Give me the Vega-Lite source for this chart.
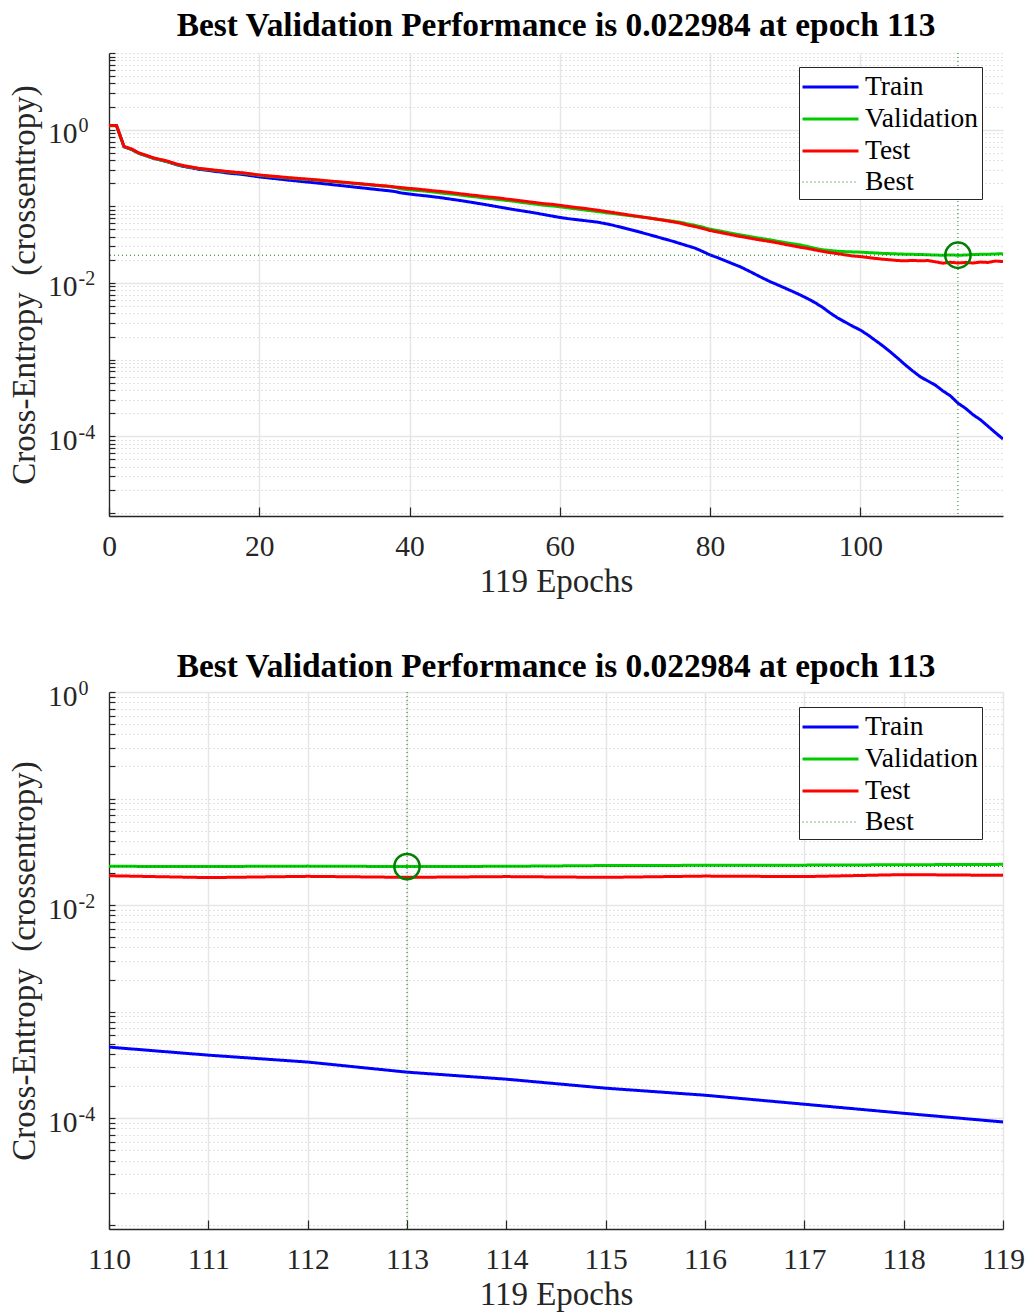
{
  "$schema": "https://vega.github.io/schema/vega-lite/v6.json",
  "background": "white",
  "padding": {"left": 7, "top": 9, "right": 0, "bottom": 0},
  "spacing": 50,
  "datasets": {
    "perf": [
      {"epoch":0,"Train":1.13,"Validation":1.12,"Test":1.13},
      {"epoch":1,"Train":1.13,"Validation":1.12,"Test":1.13},
      {"epoch":2,"Train":0.598,"Validation":0.600,"Test":0.605},
      {"epoch":3,"Train":0.551,"Validation":0.553,"Test":0.559},
      {"epoch":4,"Train":0.489,"Validation":0.490,"Test":0.496},
      {"epoch":5,"Train":0.454,"Validation":0.455,"Test":0.461},
      {"epoch":6,"Train":0.420,"Validation":0.422,"Test":0.426},
      {"epoch":7,"Train":0.398,"Validation":0.400,"Test":0.405},
      {"epoch":8,"Train":0.375,"Validation":0.378,"Test":0.382},
      {"epoch":9,"Train":0.348,"Validation":0.352,"Test":0.356},
      {"epoch":10,"Train":0.330,"Validation":0.335,"Test":0.338},
      {"epoch":11,"Train":0.317,"Validation":0.322,"Test":0.325},
      {"epoch":12,"Train":0.303,"Validation":0.309,"Test":0.312},
      {"epoch":13,"Train":0.296,"Validation":0.302,"Test":0.305},
      {"epoch":14,"Train":0.286,"Validation":0.294,"Test":0.297},
      {"epoch":15,"Train":0.279,"Validation":0.287,"Test":0.290},
      {"epoch":16,"Train":0.270,"Validation":0.280,"Test":0.283},
      {"epoch":17,"Train":0.265,"Validation":0.274,"Test":0.277},
      {"epoch":18,"Train":0.258,"Validation":0.269,"Test":0.272},
      {"epoch":19,"Train":0.250,"Validation":0.261,"Test":0.264},
      {"epoch":20,"Train":0.2415,"Validation":0.253,"Test":0.256},
      {"epoch":21,"Train":0.236,"Validation":0.248,"Test":0.251},
      {"epoch":22,"Train":0.230,"Validation":0.243,"Test":0.246},
      {"epoch":23,"Train":0.2244,"Validation":0.238,"Test":0.241},
      {"epoch":24,"Train":0.2188,"Validation":0.233,"Test":0.236},
      {"epoch":25,"Train":0.2138,"Validation":0.229,"Test":0.232},
      {"epoch":26,"Train":0.2089,"Validation":0.225,"Test":0.228},
      {"epoch":27,"Train":0.2046,"Validation":0.222,"Test":0.224},
      {"epoch":28,"Train":0.200,"Validation":0.218,"Test":0.220},
      {"epoch":29,"Train":0.195,"Validation":0.213,"Test":0.215},
      {"epoch":30,"Train":0.190,"Validation":0.209,"Test":0.211},
      {"epoch":31,"Train":0.1858,"Validation":0.205,"Test":0.207},
      {"epoch":32,"Train":0.1811,"Validation":0.201,"Test":0.203},
      {"epoch":33,"Train":0.1766,"Validation":0.197,"Test":0.199},
      {"epoch":34,"Train":0.1726,"Validation":0.193,"Test":0.195},
      {"epoch":35,"Train":0.1683,"Validation":0.189,"Test":0.191},
      {"epoch":36,"Train":0.1641,"Validation":0.185,"Test":0.187},
      {"epoch":37,"Train":0.1603,"Validation":0.182,"Test":0.184},
      {"epoch":38,"Train":0.156,"Validation":0.177,"Test":0.179},
      {"epoch":39,"Train":0.1486,"Validation":0.168,"Test":0.175},
      {"epoch":40,"Train":0.1445,"Validation":0.164,"Test":0.171},
      {"epoch":41,"Train":0.1406,"Validation":0.161,"Test":0.168},
      {"epoch":42,"Train":0.1374,"Validation":0.158,"Test":0.164},
      {"epoch":43,"Train":0.1337,"Validation":0.154,"Test":0.160},
      {"epoch":44,"Train":0.1303,"Validation":0.150,"Test":0.157},
      {"epoch":45,"Train":0.1259,"Validation":0.146,"Test":0.153},
      {"epoch":46,"Train":0.1219,"Validation":0.143,"Test":0.149},
      {"epoch":47,"Train":0.1178,"Validation":0.139,"Test":0.145},
      {"epoch":48,"Train":0.1138,"Validation":0.135,"Test":0.141},
      {"epoch":49,"Train":0.1096,"Validation":0.132,"Test":0.138},
      {"epoch":50,"Train":0.1057,"Validation":0.128,"Test":0.134},
      {"epoch":51,"Train":0.1016,"Validation":0.125,"Test":0.131},
      {"epoch":52,"Train":0.0975,"Validation":0.122,"Test":0.128},
      {"epoch":53,"Train":0.0938,"Validation":0.119,"Test":0.124},
      {"epoch":54,"Train":0.0902,"Validation":0.116,"Test":0.121},
      {"epoch":55,"Train":0.0871,"Validation":0.112,"Test":0.1175},
      {"epoch":56,"Train":0.0841,"Validation":0.109,"Test":0.114},
      {"epoch":57,"Train":0.0809,"Validation":0.106,"Test":0.111},
      {"epoch":58,"Train":0.0776,"Validation":0.103,"Test":0.108},
      {"epoch":59,"Train":0.0745,"Validation":0.101,"Test":0.106},
      {"epoch":60,"Train":0.0716,"Validation":0.0985,"Test":0.103},
      {"epoch":61,"Train":0.0692,"Validation":0.0955,"Test":0.0998},
      {"epoch":62,"Train":0.0673,"Validation":0.0928,"Test":0.097},
      {"epoch":63,"Train":0.0656,"Validation":0.0905,"Test":0.0946},
      {"epoch":64,"Train":0.0638,"Validation":0.0878,"Test":0.0918},
      {"epoch":65,"Train":0.0622,"Validation":0.0855,"Test":0.0891},
      {"epoch":66,"Train":0.0596,"Validation":0.0828,"Test":0.0861},
      {"epoch":67,"Train":0.0569,"Validation":0.0805,"Test":0.0832},
      {"epoch":68,"Train":0.0537,"Validation":0.0784,"Test":0.0804},
      {"epoch":69,"Train":0.0507,"Validation":0.0762,"Test":0.0776},
      {"epoch":70,"Train":0.0479,"Validation":0.0742,"Test":0.0750},
      {"epoch":71,"Train":0.0451,"Validation":0.0722,"Test":0.0724},
      {"epoch":72,"Train":0.0424,"Validation":0.0702,"Test":0.0700},
      {"epoch":73,"Train":0.0398,"Validation":0.0680,"Test":0.0676},
      {"epoch":74,"Train":0.0373,"Validation":0.0660,"Test":0.0652},
      {"epoch":75,"Train":0.0351,"Validation":0.0640,"Test":0.0628},
      {"epoch":76,"Train":0.0327,"Validation":0.0620,"Test":0.0603},
      {"epoch":77,"Train":0.0305,"Validation":0.0590,"Test":0.0569},
      {"epoch":78,"Train":0.0285,"Validation":0.0565,"Test":0.0543},
      {"epoch":79,"Train":0.0258,"Validation":0.0535,"Test":0.0513},
      {"epoch":80,"Train":0.0232,"Validation":0.0503,"Test":0.0483},
      {"epoch":81,"Train":0.0214,"Validation":0.0483,"Test":0.0462},
      {"epoch":82,"Train":0.0195,"Validation":0.0462,"Test":0.0442},
      {"epoch":83,"Train":0.0178,"Validation":0.0442,"Test":0.0422},
      {"epoch":84,"Train":0.0163,"Validation":0.0424,"Test":0.0404},
      {"epoch":85,"Train":0.0146,"Validation":0.0408,"Test":0.0389},
      {"epoch":86,"Train":0.0130,"Validation":0.0392,"Test":0.0373},
      {"epoch":87,"Train":0.0116,"Validation":0.0378,"Test":0.0359},
      {"epoch":88,"Train":0.0104,"Validation":0.0365,"Test":0.0347},
      {"epoch":89,"Train":0.00944,"Validation":0.0350,"Test":0.0333},
      {"epoch":90,"Train":0.00855,"Validation":0.0336,"Test":0.0318},
      {"epoch":91,"Train":0.00773,"Validation":0.0324,"Test":0.0305},
      {"epoch":92,"Train":0.00697,"Validation":0.0314,"Test":0.0292},
      {"epoch":93,"Train":0.00624,"Validation":0.0298,"Test":0.0282},
      {"epoch":94,"Train":0.00552,"Validation":0.0282,"Test":0.0269},
      {"epoch":95,"Train":0.00479,"Validation":0.0271,"Test":0.0258},
      {"epoch":96,"Train":0.00405,"Validation":0.0265,"Test":0.0248},
      {"epoch":97,"Train":0.00349,"Validation":0.0259,"Test":0.0241},
      {"epoch":98,"Train":0.00308,"Validation":0.0256,"Test":0.0232},
      {"epoch":99,"Train":0.00272,"Validation":0.0254,"Test":0.0225},
      {"epoch":100,"Train":0.00243,"Validation":0.0252,"Test":0.0221},
      {"epoch":101,"Train":0.00210,"Validation":0.0249,"Test":0.0215},
      {"epoch":102,"Train":0.00178,"Validation":0.0246,"Test":0.0209},
      {"epoch":103,"Train":0.00151,"Validation":0.0243,"Test":0.0204},
      {"epoch":104,"Train":0.00126,"Validation":0.0241,"Test":0.0200},
      {"epoch":105,"Train":0.00104,"Validation":0.0239,"Test":0.0196},
      {"epoch":106,"Train":0.000851,"Validation":0.0237,"Test":0.0194},
      {"epoch":107,"Train":0.000708,"Validation":0.0236,"Test":0.0197},
      {"epoch":108,"Train":0.000596,"Validation":0.0235,"Test":0.0194},
      {"epoch":109,"Train":0.000525,"Validation":0.0233,"Test":0.0196},
      {"epoch":110,"Train":0.000464,"Validation":0.0231,"Test":0.01884},
      {"epoch":111,"Train":0.000390,"Validation":0.0230,"Test":0.0181},
      {"epoch":112,"Train":0.000336,"Validation":0.0232,"Test":0.0186},
      {"epoch":113,"Train":0.000270,"Validation":0.022984,"Test":0.0182},
      {"epoch":114,"Train":0.000232,"Validation":0.0231,"Test":0.0185},
      {"epoch":115,"Train":0.000191,"Validation":0.0235,"Test":0.0182},
      {"epoch":116,"Train":0.000164,"Validation":0.0236,"Test":0.0187},
      {"epoch":117,"Train":0.000135,"Validation":0.0237,"Test":0.0185},
      {"epoch":118,"Train":0.000111,"Validation":0.0239,"Test":0.0193},
      {"epoch":119,"Train":0.000092,"Validation":0.0241,"Test":0.0190}
    ],
    "best": [{"epoch": 113, "value": 0.022984}]
  },
  "resolve": {"scale": {"color": "independent", "strokeDash": "independent", "strokeWidth": "independent"}},
  "config": {
    "font": "Liberation Serif",
    "view": {"stroke": null},
    "axis": {
      "domainColor": "#262626", "domainWidth": 1.3,
      "tickColor": "#262626", "tickWidth": 1.2,
      "labelColor": "#262626", "titleColor": "#262626",
      "labelFont": "Liberation Serif", "titleFont": "Liberation Serif",
      "labelFontSize": 29.5, "titleFontSize": 33, "titleFontWeight": "normal",
      "gridColor": "#e6e6e6", "gridWidth": 1.5,
      "labelFlush": false, "labelOverlap": false
    },
    "title": {"font": "Liberation Serif", "fontSize": 33.4, "fontWeight": "bold", "color": "#000000", "anchor": "middle", "baseline": "alphabetic"},
    "legend": {
      "labelFont": "Liberation Serif", "labelFontSize": 27.5, "labelColor": "#000000",
      "symbolType": "M-1.8667,0H1.8667", "symbolSize": 900,
      "symbolOffset": 11.5, "labelOffset": 18,
      "rowPadding": 2, "padding": 3.5,
      "strokeColor": "#262626", "fillColor": "#ffffff", "labelLimit": 400
    }
  },
  "vconcat": [
    {
      "width": 894,
      "height": 463,
      "title": {"text": "Best Validation Performance is 0.022984 at epoch 113", "offset": 9},
      "resolve": {"axis": {"y": "independent"}},
      "layer": [
        {
          "data": {"name": "perf"},
          "transform": [{"fold": ["Train", "Validation", "Test"], "as": ["series", "loss"]}],
          "mark": {"type": "line", "clip": true},
          "encoding": {
            "x": {
              "field": "epoch", "type": "quantitative",
              "scale": {"domain": [0, 119], "nice": false, "zero": false},
              "axis": {"values": [0, 20, 40, 60, 80, 100], "title": "119 Epochs", "tickSize": -9, "labelPadding": 25, "titlePadding": 5, "grid": true}
            },
            "y": {
              "field": "loss", "type": "quantitative",
              "scale": {"type": "log", "domain": [0.0000091, 10], "nice": false},
              "axis": {
                "orient": "left",
                "values": [0.00001,0.00002,0.00003,0.00004,0.00005,0.00006,0.00007,0.00008,0.00009,0.0001,0.0002,0.0003,0.0004,0.0005,0.0006,0.0007,0.0008,0.0009,0.001,0.002,0.003,0.004,0.005,0.006,0.007,0.008,0.009,0.01,0.02,0.03,0.04,0.05,0.06,0.07,0.08,0.09,0.1,0.2,0.3,0.4,0.5,0.6,0.7,0.8,0.9,1,2,3,4,5,6,7,8,9,10],
                "labelExpr": "datum.value == 1 || datum.value == 0.01 || datum.value == 0.0001 ? '10' : ''",
                "labelFontSize": {"condition": {"test": "datum.value == 1 || datum.value == 0.01 || datum.value == 0.0001", "value": 29.5}, "value": 0},
                "labelOffset": 4,
                "title": "Cross-Entropy\u00a0 (crossentropy)", "titleX": -68, "titleBaseline": "bottom",
                "tickSize": -6, "labelPadding": 38, "grid": true,
                "gridDash": {"condition": {"test": "datum.value == 1 || datum.value == 0.01 || datum.value == 0.0001", "value": []}, "value": [1, 3]},
                "gridColor": {"condition": {"test": "datum.value == 1 || datum.value == 0.01 || datum.value == 0.0001", "value": "#e6e6e6"}, "value": "#c8c8c8"},
                "gridWidth": {"condition": {"test": "datum.value == 1 || datum.value == 0.01 || datum.value == 0.0001", "value": 1.5}, "value": 1}
              }
            },
            "color": {
              "field": "series", "type": "nominal",
              "scale": {"domain": ["Train", "Validation", "Test", "Best"], "range": ["#0000ff", "#00cc00", "#ff0000", "#008000"]},
              "legend": {"title": null, "orient": "none", "legendX": 690, "legendY": 14}
            },
            "strokeDash": {
              "field": "series", "type": "nominal",
              "scale": {"domain": ["Train", "Validation", "Test", "Best"], "range": [[1, 0], [1, 0], [1, 0], [1, 3]]},
              "legend": {"title": null, "orient": "none", "legendX": 690, "legendY": 14}
            },
            "strokeWidth": {
              "field": "series", "type": "nominal",
              "scale": {"type": "ordinal", "domain": ["Train", "Validation", "Test", "Best"], "range": [3, 3, 3, 1]},
              "legend": {"title": null, "orient": "none", "legendX": 690, "legendY": 14}
            }
          }
        },
        {
          "data": {"name": "best"},
          "mark": {"type": "rule", "color": "#008000", "strokeWidth": 1, "strokeDash": [1, 3]},
          "encoding": {"x": {"field": "epoch", "type": "quantitative"}}
        },
        {
          "data": {"name": "best"},
          "mark": {"type": "rule", "color": "#008000", "strokeWidth": 1, "strokeDash": [1, 3]},
          "encoding": {"y": {"field": "value", "type": "quantitative", "axis": null}}
        },
        {
          "data": {"name": "best"},
          "mark": {"type": "point", "shape": "circle", "filled": false, "color": "#008000", "strokeWidth": 2.5, "size": 640, "opacity": 1},
          "encoding": {
            "x": {"field": "epoch", "type": "quantitative"},
            "y": {
              "field": "value", "type": "quantitative",
              "axis": {
                "orient": "left", "values": [1, 0.01, 0.0001],
                "labelExpr": "datum.value == 1 ? '0' : datum.value == 0.01 ? '-2' : '-4'",
                "labelFontSize": 20, "labelAlign": "left", "labelPadding": 31, "labelOffset": -4,
                "ticks": false, "domain": false, "grid": false, "title": null
              }
            }
          }
        }
      ]
    },
    {
      "width": 894,
      "height": 537,
      "title": {"text": "Best Validation Performance is 0.022984 at epoch 113", "offset": -6},
      "resolve": {"axis": {"y": "independent"}},
      "layer": [
        {
          "data": {"name": "perf"},
          "transform": [{"filter": "datum.epoch >= 110"}, {"fold": ["Train", "Validation", "Test"], "as": ["series", "loss"]}],
          "mark": {"type": "line", "clip": true},
          "encoding": {
            "x": {
              "field": "epoch", "type": "quantitative",
              "scale": {"domain": [110, 119], "nice": false, "zero": false},
              "axis": {"values": [110, 111, 112, 113, 114, 115, 116, 117, 118, 119], "format": "d", "title": "119 Epochs", "tickSize": -9, "labelPadding": 25, "titlePadding": 5, "grid": true}
            },
            "y": {
              "field": "loss", "type": "quantitative",
              "scale": {"type": "log", "domain": [0.0000091, 1], "nice": false},
              "axis": {
                "orient": "left",
                "values": [0.00001,0.00002,0.00003,0.00004,0.00005,0.00006,0.00007,0.00008,0.00009,0.0001,0.0002,0.0003,0.0004,0.0005,0.0006,0.0007,0.0008,0.0009,0.001,0.002,0.003,0.004,0.005,0.006,0.007,0.008,0.009,0.01,0.02,0.03,0.04,0.05,0.06,0.07,0.08,0.09,0.1,0.2,0.3,0.4,0.5,0.6,0.7,0.8,0.9,1],
                "labelExpr": "datum.value == 1 || datum.value == 0.01 || datum.value == 0.0001 ? '10' : ''",
                "labelFontSize": {"condition": {"test": "datum.value == 1 || datum.value == 0.01 || datum.value == 0.0001", "value": 29.5}, "value": 0},
                "labelOffset": 4,
                "title": "Cross-Entropy\u00a0 (crossentropy)", "titleX": -68, "titleBaseline": "bottom",
                "tickSize": -6, "labelPadding": 38, "grid": true,
                "gridDash": {"condition": {"test": "datum.value == 1 || datum.value == 0.01 || datum.value == 0.0001", "value": []}, "value": [1, 3]},
                "gridColor": {"condition": {"test": "datum.value == 1 || datum.value == 0.01 || datum.value == 0.0001", "value": "#e6e6e6"}, "value": "#c8c8c8"},
                "gridWidth": {"condition": {"test": "datum.value == 1 || datum.value == 0.01 || datum.value == 0.0001", "value": 1.5}, "value": 1}
              }
            },
            "color": {
              "field": "series", "type": "nominal",
              "scale": {"domain": ["Train", "Validation", "Test", "Best"], "range": ["#0000ff", "#00cc00", "#ff0000", "#008000"]},
              "legend": {"title": null, "orient": "none", "legendX": 690, "legendY": 15}
            },
            "strokeDash": {
              "field": "series", "type": "nominal",
              "scale": {"domain": ["Train", "Validation", "Test", "Best"], "range": [[1, 0], [1, 0], [1, 0], [1, 3]]},
              "legend": {"title": null, "orient": "none", "legendX": 690, "legendY": 15}
            },
            "strokeWidth": {
              "field": "series", "type": "nominal",
              "scale": {"type": "ordinal", "domain": ["Train", "Validation", "Test", "Best"], "range": [3, 3, 3, 1]},
              "legend": {"title": null, "orient": "none", "legendX": 690, "legendY": 15}
            }
          }
        },
        {
          "data": {"name": "best"},
          "mark": {"type": "rule", "color": "#008000", "strokeWidth": 1, "strokeDash": [1, 3]},
          "encoding": {"x": {"field": "epoch", "type": "quantitative"}}
        },
        {
          "data": {"name": "best"},
          "mark": {"type": "rule", "color": "#008000", "strokeWidth": 1, "strokeDash": [1, 3]},
          "encoding": {"y": {"field": "value", "type": "quantitative", "axis": null}}
        },
        {
          "data": {"name": "best"},
          "mark": {"type": "point", "shape": "circle", "filled": false, "color": "#008000", "strokeWidth": 2.5, "size": 640, "opacity": 1},
          "encoding": {
            "x": {"field": "epoch", "type": "quantitative"},
            "y": {
              "field": "value", "type": "quantitative",
              "axis": {
                "orient": "left", "values": [1, 0.01, 0.0001],
                "labelExpr": "datum.value == 1 ? '0' : datum.value == 0.01 ? '-2' : '-4'",
                "labelFontSize": 20, "labelAlign": "left", "labelPadding": 31, "labelOffset": -4,
                "ticks": false, "domain": false, "grid": false, "title": null
              }
            }
          }
        }
      ]
    }
  ]
}
